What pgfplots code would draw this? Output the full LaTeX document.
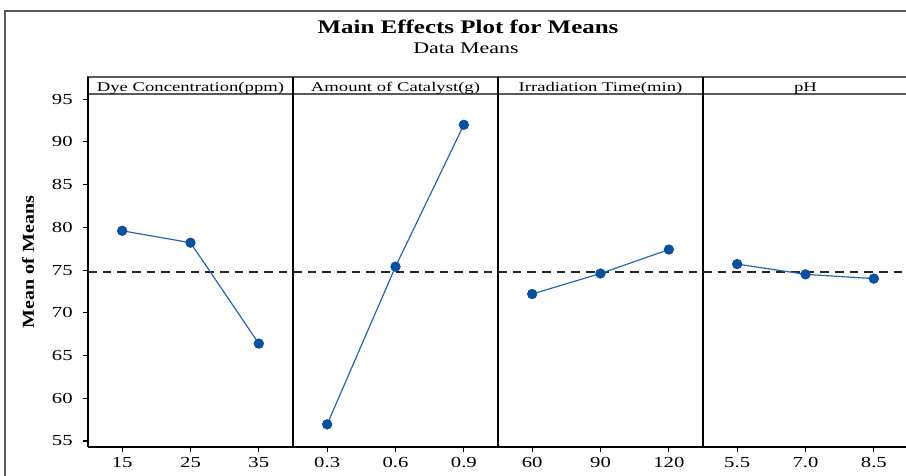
\documentclass[border=0pt]{standalone}
\usepackage{fontspec}
\setmainfont{Liberation Serif}
\newfontfamily\tickfont[FakeStretch=1.35]{Liberation Serif}
\newfontfamily\titlefont[FakeStretch=1.3]{Liberation Serif}
\newfontfamily\subfont[FakeStretch=1.35]{Liberation Serif}
\newfontfamily\stripfont[FakeStretch=1.4]{Liberation Serif}
\newfontfamily\ylabfont[FakeStretch=1.2]{Liberation Serif}
\usepackage{pgfplots}
\pgfplotsset{compat=1.18}

\definecolor{meanblue}{RGB}{10,80,160}
\definecolor{lineblue}{RGB}{40,100,180}
\definecolor{framegray}{RGB}{90,90,90}

% one facet of the main effects plot
\pgfplotsset{
  facet/.style={
    scale only axis,
    width=153.75pt, height=264.75pt,
    anchor=south west,
    xmin=-0.5, xmax=2.5,
    ymin=54.3, ymax=95.6,
    axis x line=bottom, axis y line=left,
    axis line style={-},
    x axis line style={black, line width=0.9pt},
    y axis line style={black, line width=1.4pt},
    xtick={0,1,2},
    tick align=outside,
    major tick length=4pt,
    every tick/.style={black, line width=0.8pt},
    /pgf/number format/assume math mode=true,
    tick label style={font=\tickfont\fontsize{11.5}{13}\selectfont},
    yticklabel style={xshift=-4pt},
    clip=false,
  },
  facetline/.style={lineblue, line width=0.9pt, mark=*, mark size=3.4pt,
    mark options={fill=meanblue, draw=meanblue}},
  grandmean/.style={black!85, line width=1.1pt, dash pattern=on 6.5pt off 4.5pt},
}

\begin{document}
\begin{tikzpicture}
\begin{scope}[x=0.75pt,y=-0.75pt]
  % outer frame
  \draw[framegray, line width=1.1pt] (5,11) rectangle (915,490);
  % titles
  \node[font=\titlefont\bfseries\fontsize{14.4}{16}\selectfont, anchor=base] at (468,33) {Main Effects Plot for Means};
  \node[font=\subfont\fontsize{12.2}{14}\selectfont, anchor=base] at (466,53.5) {Data Means};
  % facet strips
  \draw[framegray, line width=0.8pt] (88,77) rectangle (915,94);
  \foreach \xs in {293,498,703} \draw[black, line width=1.4pt] (\xs,77) -- (\xs,94);
  \draw[black, line width=1.4pt] (88,77) -- (88,94);
  \node[font=\stripfont\fontsize{10}{12}\selectfont, anchor=base] at (190.5,91) {Dye Concentration(ppm)};
  \node[font=\stripfont\fontsize{10}{12}\selectfont, anchor=base] at (395.5,91) {Amount of Catalyst(g)};
  \node[font=\stripfont\fontsize{10}{12}\selectfont, anchor=base] at (600.5,91) {Irradiation Time(min)};
  \node[font=\stripfont\fontsize{10}{12}\selectfont, anchor=base] at (805.5,91) {pH};
  % y axis title
  \node[font=\ylabfont\bfseries\fontsize{12.5}{14}\selectfont, rotate=90] at (28,262) {Mean of Means};
\end{scope}

% Dye concentration
\begin{axis}[facet, at={(66pt,-335.25pt)},
  ytick={55,60,...,95}, xticklabels={15,25,35}]
  \addplot[grandmean] coordinates {(-0.5,74.75) (2.5,74.75)};
  \addplot[facetline] coordinates {(0,79.6) (1,78.2) (2,66.4)};
\end{axis}

% Amount of catalyst
\begin{axis}[facet, at={(219.75pt,-335.25pt)},
  ytick=\empty, xticklabels={0.3,0.6,0.9}]
  \addplot[grandmean] coordinates {(-0.5,74.75) (2.5,74.75)};
  \addplot[facetline] coordinates {(0,56.95) (1,75.4) (2,92.0)};
\end{axis}

% Irradiation time
\begin{axis}[facet, at={(373.5pt,-335.25pt)},
  ytick=\empty, xticklabels={60,90,120}]
  \addplot[grandmean] coordinates {(-0.5,74.75) (2.5,74.75)};
  \addplot[facetline] coordinates {(0,72.2) (1,74.6) (2,77.4)};
\end{axis}

% pH
\begin{axis}[facet, at={(527.25pt,-335.25pt)},
  ytick=\empty, xticklabels={5.5,7.0,8.5}]
  \addplot[grandmean] coordinates {(-0.5,74.75) (2.5,74.75)};
  \addplot[facetline] coordinates {(0,75.7) (1,74.5) (2,74.0)};
\end{axis}

\pgfresetboundingbox
\path[use as bounding box] (0pt,0pt) rectangle (679.5pt,-356.25pt);
\end{tikzpicture}
\end{document}
